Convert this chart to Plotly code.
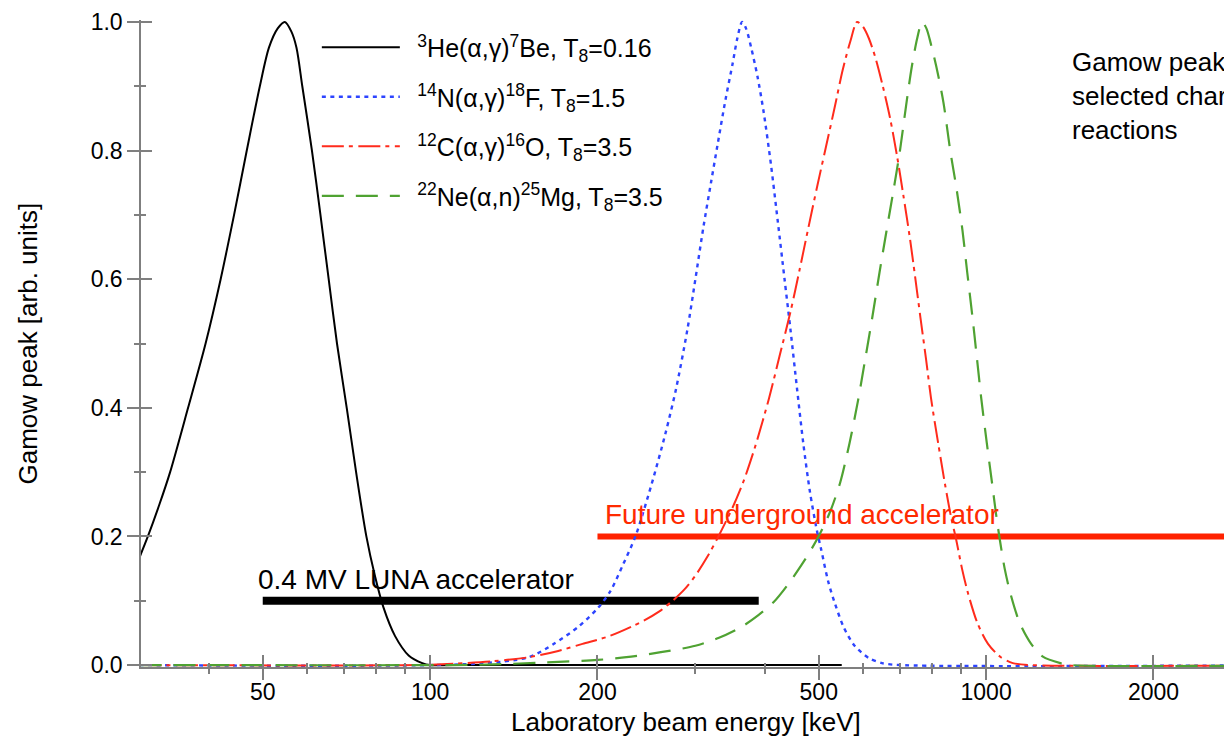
import math
import plotly.graph_objects as go

# ---------------- data ----------------
# 3He(a,g)7Be, T8 = 0.16  (lab energy keV, Gamow peak arb. units)
he_E = [30, 31.07, 32.6, 34.07, 36.7, 39.46, 42.0, 44.4, 46.8, 49.4,
        51.3, 53.2, 54.8, 56.3, 57.5, 58.9, 61.3, 63.5, 65.7, 68,
        70.8, 73.6, 76.8, 79.5, 82.4, 86.5, 91.5, 96.8, 100, 110, 550]
he_y = [0.167, 0.2, 0.25, 0.3, 0.4, 0.5, 0.6, 0.7, 0.8, 0.9,
        0.96, 0.99, 1.0, 0.985, 0.96, 0.9, 0.8, 0.7, 0.6, 0.5,
        0.4, 0.3, 0.2, 0.14, 0.09, 0.045, 0.015, 0.003, 0.0, 0.0, 0.0]

# 14N(a,g)18F, T8 = 1.5
n_E = [30, 120, 150, 167, 185, 200, 211, 222, 234, 250,
       265, 277, 290, 300, 310, 320, 329, 340, 350, 357,
       364, 370, 378, 388, 398, 410, 422, 434, 445, 457,
       469, 482, 496, 505, 520, 535, 555, 580, 615, 650, 700, 4000]
n_y = [0.0, 0.002, 0.012, 0.033, 0.06, 0.088, 0.115, 0.155, 0.2, 0.28,
       0.36, 0.43, 0.52, 0.6, 0.68, 0.75, 0.81, 0.88, 0.935, 0.975,
       1.0, 0.99, 0.96, 0.915, 0.86, 0.78, 0.69, 0.6, 0.52, 0.43,
       0.345, 0.27, 0.21, 0.18, 0.13, 0.095, 0.058, 0.03, 0.011, 0.003, 0.0, 0.0]

# 12C(a,g)16O, T8 = 3.5
c_E = [30, 95, 110, 130, 150, 170, 188, 210, 241, 258,
       273, 287, 300, 315, 330, 350, 367, 385, 407, 425,
       445, 462, 479, 497, 515, 535, 552, 570, 586, 600,
       615, 632, 652, 672, 692, 710, 729, 745, 762, 780,
       796, 820, 844, 865, 883, 905, 929, 965, 1008, 1060,
       1117, 1200, 4000]
c_y = [0.0, 0.0, 0.002, 0.006, 0.012, 0.022, 0.033, 0.045, 0.068, 0.083,
       0.1, 0.118, 0.139, 0.168, 0.2, 0.245, 0.288, 0.342, 0.415, 0.48,
       0.55, 0.615, 0.68, 0.745, 0.805, 0.87, 0.925, 0.97, 1.0, 0.993,
       0.975, 0.945, 0.9, 0.85, 0.79, 0.73, 0.665, 0.605, 0.54, 0.475,
       0.415, 0.345, 0.28, 0.23, 0.196, 0.15, 0.11, 0.065, 0.033, 0.013,
       0.003, 0.0, 0.0]

# 22Ne(a,n)25Mg, T8 = 3.5
ne_E = [30, 110, 130, 160, 200, 230, 260, 300, 330, 364,
        390, 415, 440, 465, 485, 503, 525, 547, 568, 588,
        606, 624, 643, 662, 682, 700, 718, 735, 752, 767,
        781, 796, 814, 838, 862, 885, 907, 925, 944, 962,
        980, 1003, 1026, 1042, 1058, 1080, 1107, 1150, 1205, 1265,
        1360, 1420, 4000]
ne_y = [0.0, 0.0, 0.001, 0.004, 0.008, 0.013, 0.02, 0.03, 0.042, 0.06,
        0.078, 0.098, 0.125, 0.155, 0.18, 0.205, 0.24, 0.285, 0.345, 0.41,
        0.475, 0.54, 0.61, 0.675, 0.74, 0.8, 0.87, 0.93, 0.975, 1.0,
        0.99, 0.965, 0.93, 0.875, 0.8, 0.74, 0.675, 0.61, 0.545, 0.48,
        0.415, 0.345, 0.28, 0.235, 0.196, 0.15, 0.11, 0.065, 0.033, 0.013,
        0.003, 0.0, 0.0]

# accelerator energy ranges (lab keV) and their plotting level
luna_E = [50, 390]
luna_y = [0.1, 0.1]
future_E = [200, 4000]
future_y = [0.2, 0.2]

series_names = [
    "<sup>3</sup>He(α,γ)<sup>7</sup>Be, T<sub>8</sub>=0.16",
    "<sup>14</sup>N(α,γ)<sup>18</sup>F, T<sub>8</sub>=1.5",
    "<sup>12</sup>C(α,γ)<sup>16</sup>O, T<sub>8</sub>=3.5",
    "<sup>22</sup>Ne(α,n)<sup>25</sup>Mg, T<sub>8</sub>=3.5",
]
caption_text = "Gamow peaks for<br>selected charged-particle<br>reactions"

x_major = [50, 100, 200, 500, 1000, 2000]
x_major_text = ["50", "100", "200", "500", "1000", "2000"]
x_minor = [30, 40, 60, 70, 80, 90, 300, 400, 600, 700, 800, 900]
y_major = [0.0, 0.2, 0.4, 0.6, 0.8, 1.0]
y_minor = [0.1, 0.3, 0.5, 0.7, 0.9]

x_range_keV = [30.2, 2862]
y_range = [-0.003, 1.003]

# ---------------- styling ----------------
FONT = "Liberation Sans, Arial, Helvetica, sans-serif"
AX = "#7f7f7f"
RED_LABEL = "#ff2a00"

fig = go.Figure()

# accelerator bars
fig.add_trace(go.Scatter(x=luna_E, y=luna_y, mode="lines",
                         line=dict(color="black", width=8),
                         showlegend=False, hoverinfo="skip"))
fig.add_trace(go.Scatter(x=future_E, y=future_y, mode="lines",
                         line=dict(color="#ff2200", width=6),
                         showlegend=False, hoverinfo="skip"))

curves = [
    (he_E, he_y, "black", "solid", 2.0),
    (n_E, n_y, "#2d44ff", "4px,4.5px", 2.4),
    (c_E, c_y, "#ff2b1c", "22px,5px,4px,5.5px", 2.0),
    (ne_E, ne_y, "#4fa232", "22px,12px", 2.2),
]
for i, (xs, ys, col, dash, w) in enumerate(curves):
    fig.add_trace(go.Scatter(x=xs, y=ys, mode="lines",
                             name="\u2002" + series_names[i],
                             legendgroup=f"g{i}",
                             line=dict(color=col, width=w, dash=dash,
                                       shape="spline", smoothing=0.8)))

# dummy trace so the overlay axes (inner tick halves) are drawn
fig.add_trace(go.Scatter(x=[None], y=[None], xaxis="x2", yaxis="y2",
                         showlegend=False, hoverinfo="skip"))

xr = [math.log10(x_range_keV[0]), math.log10(x_range_keV[1])]

common_x = dict(type="log", range=xr, showgrid=False, zeroline=False,
                tickmode="array", tickvals=x_major, ticktext=x_major_text,
                tickcolor=AX, tickwidth=1.5)
common_y = dict(range=y_range, showgrid=False, zeroline=False,
                tickmode="array", tickvals=y_major, tickcolor=AX, tickwidth=1.5)

TICK_FONT = dict(size=23, family=FONT, color="black")

fig.update_layout(
    width=1232, height=740,
    margin=dict(l=133, r=0, t=12, b=81),
    paper_bgcolor="white", plot_bgcolor="white",
    font=dict(family=FONT, color="black", size=23),
    xaxis=dict(**common_x, showline=True, linecolor=AX, linewidth=1.5,
               ticks="outside", ticklen=11, tickfont=TICK_FONT,
               ticklabelstandoff=-7,
               minor=dict(tickmode="array", tickvals=x_minor, ticks="outside",
                          ticklen=5, tickcolor=AX, tickwidth=1.5, showgrid=False)),
    xaxis2=dict(**common_x, overlaying="x", anchor="y", side="bottom",
                showline=False, ticks="inside", ticklen=12, showticklabels=False,
                minor=dict(tickmode="array", tickvals=x_minor, ticks="inside",
                           ticklen=4, tickcolor=AX, tickwidth=1.5, showgrid=False)),
    yaxis=dict(**common_y, showline=True, linecolor=AX, linewidth=1.5,
               ticks="outside", ticklen=12, tickformat=".1f", tickfont=TICK_FONT,
               minor=dict(tickmode="array", tickvals=y_minor, ticks="outside",
                          ticklen=5, tickcolor=AX, tickwidth=1.5, showgrid=False)),
    yaxis2=dict(**common_y, overlaying="y", anchor="x", side="left",
                showline=False, ticks="inside", ticklen=11, showticklabels=False,
                minor=dict(tickmode="array", tickvals=y_minor, ticks="inside",
                           ticklen=5, tickcolor=AX, tickwidth=1.5, showgrid=False)),
    legend=dict(x=0.160, y=0.993, xanchor="left", yanchor="top",
                bgcolor="rgba(0,0,0,0)", borderwidth=0,
                font=dict(size=25, family=FONT, color="black"),
                itemwidth=78, tracegroupgap=14, traceorder="grouped"),
    showlegend=True,
)

# axis titles
fig.add_annotation(text="Laboratory beam energy [keV]", xref="paper", yref="paper",
                   x=0.496, y=-0.085, xanchor="center", yanchor="middle",
                   showarrow=False, font=dict(size=26, family=FONT, color="black"))
fig.add_annotation(text="Gamow peak [arb. units]", xref="paper", yref="paper",
                   x=-0.1037, y=0.5, xanchor="center", yanchor="middle",
                   textangle=-90, showarrow=False,
                   font=dict(size=26, family=FONT, color="black"))

# bar labels (anchored to the bars' data positions)
fig.add_annotation(text="0.4 MV LUNA accelerator", xref="x", yref="y",
                   x=math.log10(luna_E[0]), y=luna_y[0], xanchor="left", yanchor="bottom",
                   xshift=-7, yshift=4, showarrow=False,
                   font=dict(size=28, family=FONT, color="black"))
fig.add_annotation(text="Future underground accelerator", xref="x", yref="y",
                   x=math.log10(future_E[0]), y=future_y[0], xanchor="left", yanchor="bottom",
                   xshift=6, yshift=4, showarrow=False,
                   font=dict(size=28, family=FONT, color=RED_LABEL))

# side caption (cut off at the right edge in the reference)
fig.add_annotation(text=caption_text, xref="paper", yref="paper", x=0.8453, y=0.962,
                   xanchor="left", yanchor="top", align="left", showarrow=False,
                   font=dict(size=26, family=FONT, color="black"))

fig.write_html("out.html")
